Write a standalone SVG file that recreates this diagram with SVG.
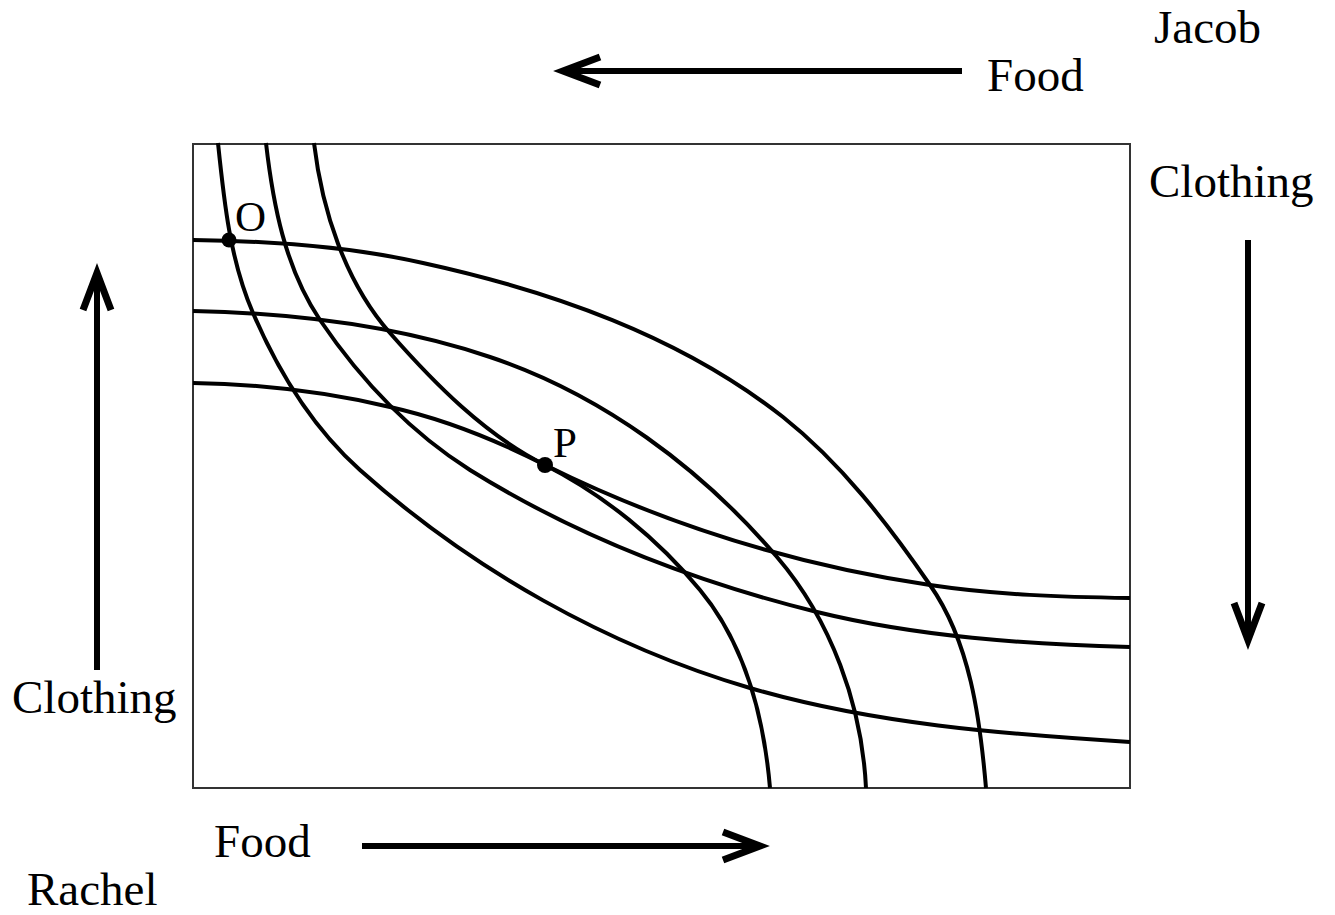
<svg xmlns="http://www.w3.org/2000/svg" width="1335" height="915" viewBox="0 0 1335 915">
<style>
.bg{fill:#ffffff}
.box{fill:none;stroke:#333333;stroke-width:2}
.ic{fill:none;stroke:#000000;stroke-width:4;stroke-linecap:butt}
.ar{fill:none;stroke:#000000;stroke-width:6}
.lbl{font-family:"Liberation Serif","Times New Roman",serif;font-size:47px;fill:#000000}
.pt{font-family:"Liberation Serif","Times New Roman",serif;font-size:43px;fill:#000000}
.dot{fill:#000000}
</style>
<defs>
<marker id="head" markerUnits="userSpaceOnUse" markerWidth="60" markerHeight="60" viewBox="-45 -30 60 60" refX="0" refY="0" orient="auto" overflow="visible">
<path d="M-38,-14 L-1,0 L-38,14" fill="none" stroke="#000000" stroke-width="7" stroke-linejoin="miter"/>
</marker>
</defs>
<rect class="bg" x="0" y="0" width="1335" height="915"/>
<g id="box">
<rect class="box" x="193" y="144" width="937" height="644"/>
</g>
<g id="connectors">
<path id="rachel-ic-1" class="ic" d="M218,143 C224,201 230,260 253,313 C278,371 313,428 360,470 C471,569 607,646 750,688 C873,724 1002,734 1130,742"/>
<path id="rachel-ic-2" class="ic" d="M266,143 C273,204 285,268 320,320 C360,379 410,432 470,470 C576,536 696,582 817,612 C919,637 1025,644 1130,647"/>
<path id="rachel-ic-3" class="ic" d="M314,143 C322,210 345,282 390,333 C434,383 485,435 545,465 C666,525 796,565 930,585 C996,595 1063,597 1130,598"/>
<path id="jacob-ic-1" class="ic" d="M193,240 C270,241 348,246 423,263 C551,291 680,336 783,417 C841,463 888,524 930,585 C970,642 980,718 986,788"/>
<path id="jacob-ic-2" class="ic" d="M193,311 C293,313 395,325 490,357 C601,394 701,468 777,557 C831,620 862,705 866,788"/>
<path id="jacob-ic-3" class="ic" d="M193,383 C259,384 326,392 390,407 C444,419 496,440 545,465 C604,495 658,539 700,590 C745,644 764,718 770,788"/>
<line id="arrow-jacob-food" class="ar" x1="962" y1="71" x2="562" y2="71" marker-end="url(#head)"/>
<line id="arrow-jacob-clothing" class="ar" x1="1248" y1="240" x2="1248" y2="641" marker-end="url(#head)"/>
<line id="arrow-rachel-clothing" class="ar" x1="97" y1="670" x2="97" y2="272" marker-end="url(#head)"/>
<line id="arrow-rachel-food" class="ar" x1="362" y1="846" x2="761" y2="846" marker-end="url(#head)"/>
</g>
<g id="point-O">
<circle class="dot" cx="229" cy="240" r="7.5"/>
<text class="pt" x="235" y="231">O</text>
</g>
<g id="point-P">
<circle class="dot" cx="545" cy="465" r="8"/>
<text class="pt" x="553" y="457">P</text>
</g>
<g id="label-jacob">
<text class="lbl" x="1154" y="43">Jacob</text>
</g>
<g id="label-jacob-food">
<text class="lbl" x="987" y="91">Food</text>
</g>
<g id="label-jacob-clothing">
<text class="lbl" x="1149" y="197">Clothing</text>
</g>
<g id="label-rachel-clothing">
<text class="lbl" x="12" y="713">Clothing</text>
</g>
<g id="label-rachel-food">
<text class="lbl" x="214" y="857">Food</text>
</g>
<g id="label-rachel">
<text class="lbl" x="27" y="905">Rachel</text>
</g>
</svg>
